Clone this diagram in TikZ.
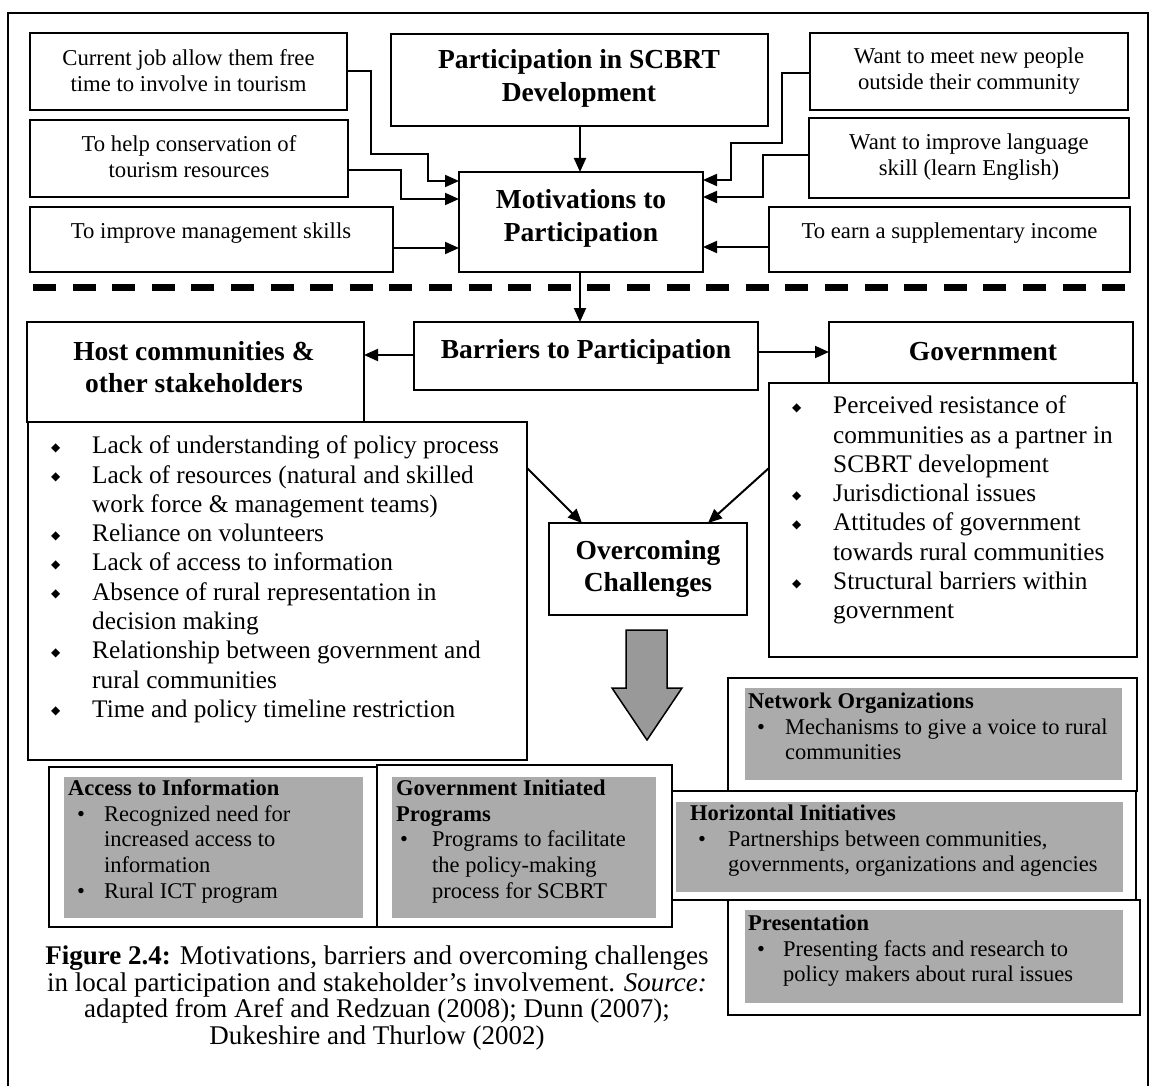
\documentclass[tikz,border=0pt]{standalone}
\usepackage{fontspec}
\setmainfont{Liberation Serif}
\newfontfamily\symfam{DejaVu Sans}
\usetikzlibrary{arrows.meta,fit}
% small diamond bullet for the white lists
\newcommand\dmd{\raisebox{2.5pt}{\symfam\fontsize{12}{12}\selectfont ◆}}
\begin{document}
\begin{tikzpicture}[x=1pt,y=-1pt,
  box/.style={draw, line width=2pt, inner sep=0pt, outer sep=0pt},
  shade/.style={fill=black!33, draw=none, inner sep=0pt},
  conn/.style={line width=2pt, -{Triangle[length=14pt,width=12pt]}},
  small/.style={align=center, inner sep=0pt, font=\fontsize{22.7}{26}\selectfont},
  head/.style={align=center, inner sep=0pt, font=\fontsize{27.5}{32.5}\selectfont\bfseries},
  list/.style={anchor=north west, inner sep=0pt, font=\fontsize{25.3}{29.3}\selectfont},
  glist/.style={anchor=north west, inner sep=0pt, font=\fontsize{22.5}{25.8}\selectfont},
  caption/.style={align=center, inner sep=0pt, font=\fontsize{27}{26.7}\selectfont},
]
\useasboundingbox (0,0) rectangle (1157,1086);
\fill[white] (0,0) rectangle (1157,1086);

% outer frame (its lower edge runs just past the page)
\node[box, line width=2.5pt, fit={(8,13) (1148,1092)}] (frame) {};

% ---------- motivations ----------
\node[box, fit={(30,33) (347,110)}] (cj) {};
\node[small] (cj-t) at (188.5,71) {Current job allow them free\\time to involve in tourism};
\node[box, fit={(30,120) (348,197)}] (hc) {};
\node[small] (hc-t) at (189,157) {To help conservation of\\tourism resources};
\node[box, fit={(30,207) (393,272)}] (im) {};
\node[small] (im-t) at (211,233) {To improve management skills};

\node[box, fit={(391,34) (768,126)}] (part) {};
\node[head] (part-t) at (579,78.5) {Participation in SCBRT\\Development};
\node[box, fit={(459,172) (703,272)}] (mot) {};
\node[head] (mot-t) at (581,218.5) {Motivations to\\Participation};

\node[box, fit={(810,33) (1128,110)}] (wm) {};
\node[small] (wm-t) at (969,71) {Want to meet new people\\outside their community};
\node[box, fit={(809,118) (1129,198)}] (wl) {};
\node[small] (wl-t) at (969,157) {Want to improve language\\skill (learn English)};
\node[box, fit={(769,207) (1130,272)}] (ei) {};
\node[small] (ei-t) at (949.5,233) {To earn a supplementary income};

\draw[conn] (part.south -| 580,0) -- (mot.north -| 580,0);
\draw[conn] (cj.east) -| (371,154) -| (428,181) -- (mot.west |- 0,181);
\draw[conn] (hc.east |- 0,170) -| (401,199) -- (mot.west |- 0,199);
\draw[conn] (im.east |- 0,248) -- (mot.west |- 0,248);
\draw[conn] (wm.west |- 0,73) -| (782,143) -| (731,180) -- (mot.east |- 0,180);
\draw[conn] (wl.west |- 0,155) -| (763,197) -- (mot.east |- 0,197);
\draw[conn] (ei.west |- 0,247) -- (mot.east |- 0,247);

% separator between motivations and barriers
\coordinate (sepL) at (33,287);
\coordinate (sepR) at (1134,287);
\draw[line width=7pt, dash pattern=on 23pt off 16.6pt] (sepL) -- (sepR);

% ---------- barriers ----------
\node[box, fit={(414,322) (758,390)}] (bar) {};
\node[head] (bar-t) at (586,352) {Barriers to Participation};
\draw[conn] (mot.south -| 580,0) -- (bar.north -| 580,0);

\node[box, fit={(27,322) (364,422)}] (hostH) {};
\node[head] (hostH-t) at (194,367) {Host communities \&\\other stakeholders};
\node[box, fit={(28,422) (527,760)}] (hostL) {};
\node[list] (hostL-t) at (51,433) {\begin{tabular}{@{}p{41pt}@{}l@{}}
\dmd & Lack of understanding of policy process\\
\dmd & Lack of resources (natural and skilled\\
     & work force \& management teams)\\
\dmd & Reliance on volunteers\\
\dmd & Lack of access to information\\
\dmd & Absence of rural representation in\\
     & decision making\\
\dmd & Relationship between government and\\
     & rural communities\\
\dmd & Time and policy timeline restriction
\end{tabular}};

\node[box, fit={(829,322) (1133,383)}] (govH) {};
\node[head] (govH-t) at (983,352) {Government};
\node[box, fit={(769,383) (1137,657)}] (govL) {};
\node[list] (govL-t) at (792,393) {\begin{tabular}{@{}p{41pt}@{}l@{}}
\dmd & Perceived resistance of\\
     & communities as a partner in\\
     & SCBRT development\\
\dmd & Jurisdictional issues\\
\dmd & Attitudes of government\\
     & towards rural communities\\
\dmd & Structural barriers within\\
     & government
\end{tabular}};

\draw[conn] (bar.west |- 0,355) -- (hostH.east |- 0,355);
\draw[conn] (bar.east |- 0,352) -- (govH.west |- 0,352);

% ---------- overcoming challenges ----------
\node[box, fit={(549,523) (747,615)}] (over) {};
\node[head] (over-t) at (648,569) {Overcoming\\Challenges};
\draw[conn] (hostL.east |- 0,468) -- (over.north -| 582,0);
\draw[conn] (govL.west |- 0,468) -- (over.north -| 708,0);

% broad downward arrow
\draw[line width=1.5pt, fill=black!40]
  (626,630) -- (667,630) -- (667,688) -- (682,688) -- (647,740)
  -- (612,688) -- (626,688) -- cycle;

% ---------- ways of overcoming ----------
\node[box, fit={(49,767) (377,927)}] (acc) {};
\node[shade, fit={(64,777) (363,918)}] (acc-s) {};
\node[glist] (acc-t) at (68,777) {\begin{tabular}{@{}p{36pt}@{}l@{}}
\multicolumn{2}{@{}l@{}}{\textbf{Access to Information}}\\
\hspace*{9pt}• & Recognized need for\\
     & increased access to\\
     & information\\
\hspace*{9pt}• & Rural ICT program
\end{tabular}};

\node[box, fit={(377,765) (672,927)}] (gip) {};
\node[shade, fit={(392,777) (656,918)}] (gip-s) {};
\node[glist] (gip-t) at (396,777) {\begin{tabular}{@{}p{36pt}@{}l@{}}
\multicolumn{2}{@{}l@{}}{\textbf{Government Initiated}}\\
\multicolumn{2}{@{}l@{}}{\textbf{Programs}}\\
\hspace*{4pt}• & Programs to facilitate\\
     & the policy-making\\
     & process for SCBRT
\end{tabular}};

\node[box, fit={(728,678) (1137,791)}] (net) {};
\node[shade, fit={(745,688) (1122,780)}] (net-s) {};
\node[glist] (net-t) at (748,690) {\begin{tabular}{@{}p{37pt}@{}l@{}}
\multicolumn{2}{@{}l@{}}{\textbf{Network Organizations}}\\
\hspace*{9pt}• & Mechanisms to give a voice to rural\\
     & communities
\end{tabular}};

\node[box, fit={(672,791) (1136,900)}] (hor) {};
\node[shade, fit={(676,802) (1123,892)}] (hor-s) {};
\node[glist] (hor-t) at (690,802) {\begin{tabular}{@{}p{38pt}@{}l@{}}
\multicolumn{2}{@{}l@{}}{\textbf{Horizontal Initiatives}}\\
\hspace*{8pt}• & Partnerships between communities,\\
     & governments, organizations and agencies
\end{tabular}};

\node[box, fit={(728,900) (1140,1015)}] (pres) {};
\node[shade, fit={(745,910) (1123,1003)}] (pres-s) {};
\node[glist] (pres-t) at (748,912) {\begin{tabular}{@{}p{35pt}@{}l@{}}
\multicolumn{2}{@{}l@{}}{\textbf{Presentation}}\\
\hspace*{9pt}• & Presenting facts and research to\\
     & policy makers about rural issues
\end{tabular}};

% ---------- caption ----------
\node[caption] (cap) at (377,998) {\textbf{Figure 2.4:} Motivations, barriers and overcoming challenges\\
in local participation and stakeholder’s involvement. \textit{Source:}\\
adapted from Aref and Redzuan (2008); Dunn (2007);\\
Dukeshire and Thurlow (2002)};
\end{tikzpicture}
\end{document}
